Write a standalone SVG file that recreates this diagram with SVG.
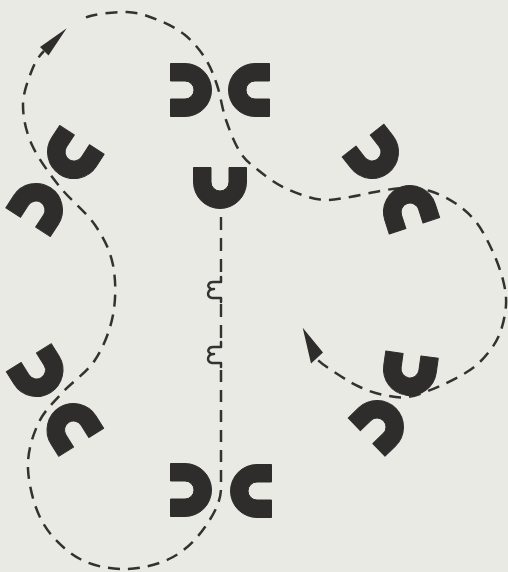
<svg xmlns="http://www.w3.org/2000/svg" xmlns:xlink="http://www.w3.org/1999/xlink" width="508" height="572" viewBox="0 0 508 572">
<style>
.bg{fill:#eaeae5}
.mag{fill:#2e2d2b;stroke:#2e2d2b;stroke-width:1;stroke-linejoin:round}
.beam{fill:none;stroke:#333230;stroke-width:2.5;stroke-dasharray:12 8}
.vbeam{fill:none;stroke:#333230;stroke-width:2.4;stroke-dasharray:13 8}
.brk{fill:none;stroke:#333230;stroke-width:2.5;stroke-linecap:round;stroke-linejoin:round}
.arr{fill:#2e2d2b}
</style>
<defs>
<path id="mag" d="M14.5,-26.5 H0 A26.5,26.5 0 0 0 0,26.5 H14.5 V9 H0 A9,9 0 0 1 0,-9 H14.5 Z"/>
</defs>
<rect class="bg" x="0" y="0" width="508" height="572"/>
<g id="connectors">
<path class="vbeam" d="M221,217 V274"/>
<path class="vbeam" d="M221,304 V340"/>
<path class="beam" d="M221,370 V488 C221,502 213,515.5 205,527 C197,538.5 186,550 173,557 C160,564 142.5,568.7 127,569 C111.5,569.3 94,566.7 80,559 C66,551.3 51.7,538 43,523 C34.3,508 28.8,485.5 28,469 C27.2,452.5 32.3,436.7 38,424 C43.7,411.3 52.5,403.7 62,393 C71.5,382.3 86.5,373 95,360 C103.5,347 110,330.8 113,315 C116,299.2 116,280 113,265 C110,250 103.8,238 95,225 C86.2,212 70.5,200.3 60,187 C49.5,173.7 38.2,158.7 32,145 C25.8,131.3 23,117.5 23,105 C23,92.5 28.5,79 32,70 C35.5,61 40,55 44,51"/>
<polygon class="arr" points="66.7,28.3 40,47 48.5,55.5"/>
<path class="beam" d="M86,17.5 C92,14.5 115,11.58 127,12 C139,12.42 148.33,16.17 158,20 C167.67,23.830 177.17,28.67 185,35 C192.83,41.33 199.67,49.67 205,58 C210.33,66.33 213.5,74.67 217,85 C220.5,95.33 222.17,108.83 226,120 C229.83,131.17 234.67,143.67 240,152 C245.33,160.33 250.5,164 258,170 C265.5,176 274.67,183.08 285,188 C295.33,192.92 309.17,198 320,199.5 C330.83,201 340,198.42 350,197 C360,195.58 370.83,192.5 380,191 C389.17,189.5 396.67,188 405,188 C413.33,188 421.67,188.5 430,191 C438.33,193.5 447.33,197.83 455,203 C462.67,208.17 469.83,214.17 476,222 C482.17,229.83 487.5,240.33 492,250 C496.5,259.67 500.67,270.83 503,280 C505.33,289.17 506.5,296.17 506,305 C505.5,313.83 503,325 500,333 C497,341 493,346.83 488,353 C483,359.17 478,364.5 470,370 C462,375.5 450.33,381.5 440,386 C429.67,390.5 417.33,395.5 408,397 C398.67,398.5 391.67,396.5 384,395 C376.33,393.5 369,391 362,388 C355,385 349.67,382 342,377 C334.33,372 321,364 316,358"/>
<polygon class="arr" points="302.7,327.7 311,363.5 323,352.5"/>
<path class="brk" d="M221,277 V282 H213 C208,282 207,287 210,288 M214,289 C207,289 206,297 212,298 H221 V302"/>
<path class="brk" d="M221,342 V347 H213 C208,347 207,352 210,353 M214,354 C207,354 206,362 212,363 H221 V367"/>
</g>
<g id="magnet-top-left" transform="translate(185,90) rotate(180)"><use xlink:href="#mag" class="mag"/></g>
<g id="magnet-top-right" transform="translate(255,90)"><use xlink:href="#mag" class="mag"/></g>
<g id="magnet-center" transform="translate(220,182) rotate(-90)"><use xlink:href="#mag" class="mag"/></g>
<g id="magnet-bottom-left" transform="translate(185,490) rotate(180)"><use xlink:href="#mag" class="mag"/></g>
<g id="magnet-bottom-right" transform="translate(257,491)"><use xlink:href="#mag" class="mag"/></g>
<g id="magnet-d" transform="translate(74,152) rotate(-57)"><use xlink:href="#mag" class="mag"/></g>
<g id="magnet-e" transform="translate(36,210) rotate(123)"><use xlink:href="#mag" class="mag"/></g>
<g id="magnet-f" transform="translate(36.5,370) rotate(-122)"><use xlink:href="#mag" class="mag"/></g>
<g id="magnet-g" transform="translate(73.5,430) rotate(58)"><use xlink:href="#mag" class="mag"/></g>
<g id="magnet-j" transform="translate(372,152) rotate(-128)"><use xlink:href="#mag" class="mag"/></g>
<g id="magnet-k" transform="translate(410,212) rotate(72)"><use xlink:href="#mag" class="mag"/></g>
<g id="magnet-l" transform="translate(410,369) rotate(-82)"><use xlink:href="#mag" class="mag"/></g>
<g id="magnet-m" transform="translate(377,427) rotate(136)"><use xlink:href="#mag" class="mag"/></g>
</svg>
